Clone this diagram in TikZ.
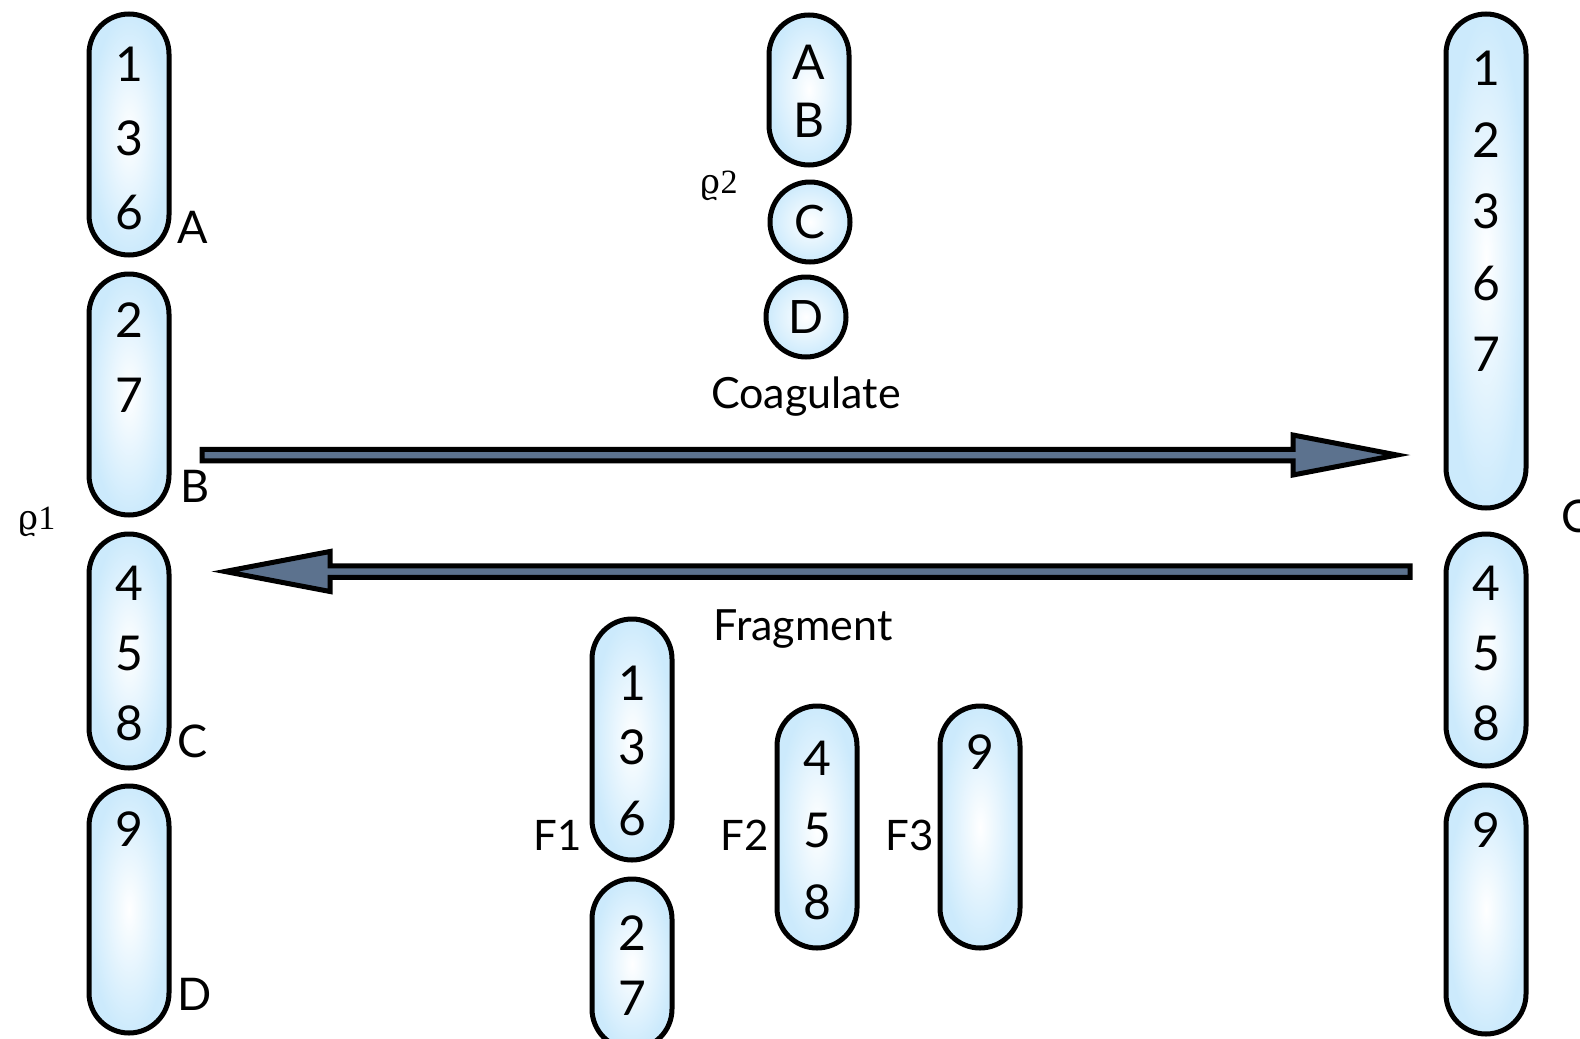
\documentclass[tikz,border=0pt]{standalone}
\usepackage{fontspec}
\setmainfont{Lato}
\newfontfamily\rhofont{DejaVu Serif}
\newfontfamily\rhodigit{Liberation Serif}
\definecolor{capedge}{RGB}{204,234,252}
\definecolor{arrowfill}{RGB}{92,114,142}
\begin{document}
\begin{tikzpicture}[x=1pt,y=-1pt,
  capsule/.style={draw=black, line width=5pt, rectangle, rounded corners=40pt,
    inner color=white, outer color=capedge, minimum width=80pt, inner sep=0pt},
  ball/.style={draw=black, line width=5pt, circle, minimum size=80pt, inner sep=0pt,
    inner color=white, outer color=capedge, font=\fontsize{46}{50}\selectfont},
  dig/.style={inner sep=0pt, font=\fontsize{48}{52}\selectfont},
  lab/.style={inner sep=0pt, font=\fontsize{45}{50}\selectfont},
  flab/.style={inner sep=0pt, font=\fontsize{42}{46}\selectfont},
  captext/.style={inner sep=0pt, font=\fontsize{43}{47}\selectfont},
  rho/.style={inner sep=0pt, font=\fontsize{34}{38}\selectfont},
  bigarrow/.style={draw=black, line width=5pt, fill=arrowfill, line join=miter}]
\useasboundingbox (0,0) rectangle (1580,1039);

% ---------- left column ----------
\node[capsule, minimum height=241pt] (L1) at (129,134.5) {};
\node[capsule, minimum height=241pt] (L2) at (129,394.5) {};
\node[capsule, minimum height=234pt] (L3) at (129,651) {};
\node[capsule, minimum height=247pt] (L4) at (129,909.5) {};
\node[dig] (l1a) at (129,64) {1};
\node[dig] (l1b) at (129,138) {3};
\node[dig] (l1c) at (129,212) {6};
\node[dig] (l2a) at (129,320) {2};
\node[dig] (l2b) at (129,395) {7};
\node[dig] (l3a) at (129,583) {4};
\node[dig] (l3b) at (129,653) {5};
\node[dig] (l3c) at (129,723) {8};
\node[dig] (l4a) at (129,829) {9};
\node[lab] (labA) at (193,227) {A};
\node[lab] (labB) at (195,486) {B};
\node[lab] (labC) at (193,741) {C};
\node[lab] (labD) at (195,994) {D};
\node[rho] (rho1) at (37,522) {{\rhofont ϱ}{\rhodigit 1}};

% ---------- top middle ----------
\node[capsule, minimum height=150pt] (AB) at (809,90) {};
\node[dig] (ab1) at (809,62) {A};
\node[dig] (ab2) at (809,120) {B};
\node[ball] (ballC) at (810,222) {C};
\node[ball] (ballD) at (806,317) {D};
\node[rho] (rho2) at (719,186) {{\rhofont ϱ}{\rhodigit 2}};

% ---------- right column ----------
\node[capsule, minimum height=494pt] (R1) at (1486,261) {};
\node[capsule, minimum height=232pt] (R2) at (1486,650) {};
\node[capsule, minimum height=249pt] (R3) at (1486,909.5) {};
\node[dig] (r1a) at (1486,68) {1};
\node[dig] (r1b) at (1486,140) {2};
\node[dig] (r1c) at (1486,211) {3};
\node[dig] (r1d) at (1486,283) {6};
\node[dig] (r1e) at (1486,354) {7};
\node[dig] (r2a) at (1486,583) {4};
\node[dig] (r2b) at (1486,653) {5};
\node[dig] (r2c) at (1486,723) {8};
\node[dig] (r3a) at (1486,830) {9};
\node[lab] (labCr) at (1577,516) {C};

% ---------- arrows ----------
\coordinate (coS) at (202,455);
\coordinate (coE) at (1397,455);
\coordinate (frS) at (1410,571.5);
\coordinate (frE) at (225,571.5);
\draw[bigarrow] ([yshift=-5.75pt]coS) -- ([xshift=-104pt,yshift=-5.75pt]coE)
  -- ([xshift=-104pt,yshift=-20pt]coE) -- (coE) -- ([xshift=-104pt,yshift=20pt]coE)
  -- ([xshift=-104pt,yshift=5.75pt]coE) -- ([yshift=5.75pt]coS) -- cycle;
\draw[bigarrow] ([yshift=-5.75pt]frS) -- ([xshift=105pt,yshift=-5.75pt]frE)
  -- ([xshift=105pt,yshift=-20pt]frE) -- (frE) -- ([xshift=105pt,yshift=20pt]frE)
  -- ([xshift=105pt,yshift=5.75pt]frE) -- ([yshift=5.75pt]frS) -- cycle;
\node[captext] (coag) at (806,397) {Coagulate};
\node[captext] (frag) at (803,629) {Fragment};

% ---------- bottom middle ----------
\node[capsule, minimum height=241pt] (F1) at (632,739.5) {};
\node[capsule, minimum height=170pt] (F1b) at (632,964) {};
\node[capsule, minimum height=242pt] (F2) at (817,827) {};
\node[capsule, minimum height=242pt] (F3) at (980,827) {};
\node[dig] (f1a) at (632,683) {1};
\node[dig] (f1b) at (632,747) {3};
\node[dig] (f1c) at (632,818) {6};
\node[dig] (f1d) at (632,933) {2};
\node[dig] (f1e) at (632,998) {7};
\node[dig] (f2a) at (817,758) {4};
\node[dig] (f2b) at (817,830) {5};
\node[dig] (f2c) at (817,902) {8};
\node[dig] (f3a) at (980,752) {9};
\node[flab] (labF1) at (558,835) {F1};
\node[flab] (labF2) at (745,835) {F2};
\node[flab] (labF3) at (910,835) {F3};
\end{tikzpicture}
\end{document}
